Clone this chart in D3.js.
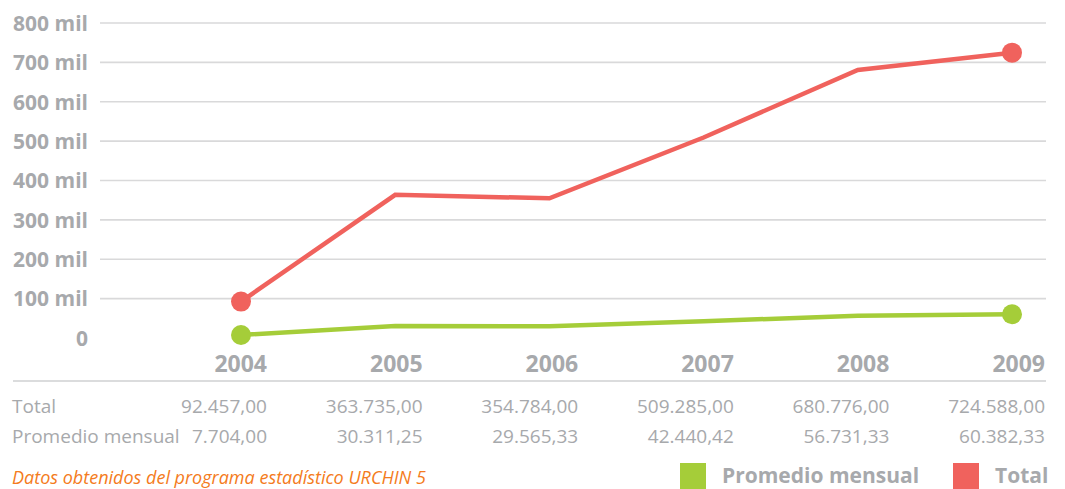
<!DOCTYPE html>
<html>
<head>
<meta charset="utf-8">
<script src="https://cdn.jsdelivr.net/npm/d3@7"></script>
<style>
  html, body { margin: 0; padding: 0; background: #fff; }
  svg { display: block; font-family: "Open Sans", "Noto Sans", sans-serif; }
</style>
</head>
<body>
<svg id="chart" width="1065" height="489"></svg>
<script>
// Visitas por año
const years = ["2004", "2005", "2006", "2007", "2008", "2009"];
const totalValues = [92457.00, 363735.00, 354784.00, 509285.00, 680776.00, 724588.00];
const monthlyValues = [7704.00, 30311.25, 29565.33, 42440.42, 56731.33, 60382.33];
const yTicks = [0, 100000, 200000, 300000, 400000, 500000, 600000, 700000, 800000];
const seriesNames = ["Promedio mensual", "Total"];
const rowLabels = ["Total", "Promedio mensual"];
const sourceNote = "Datos obtenidos del programa estadístico URCHIN 5";

const COLORS = { total: "#f0625d", monthly: "#a5cd39", text: "#a7a9ac", grid: "#d9d9da", note: "#f47b20" };

const svg = d3.select("#chart");

const y = d3.scaleLinear().domain([0, 800000]).range([338, 23]);
const x = d3.scalePoint().domain(years).range([241, 1012]);
// right edges of the year labels and table columns
const col = d3.scalePoint().domain(years).range([267, 1045]);

const es = d3.formatLocale({ decimal: ",", thousands: ".", grouping: [3], currency: ["", ""] });
const fmt = es.format(",.2f");
const tickFmt = v => v === 0 ? "0" : (v / 1000) + " mil";

// horizontal gridlines (none at zero)
svg.append("g")
  .selectAll("line")
  .data(yTicks.filter(d => d > 0))
  .join("line")
  .attr("x1", 100).attr("x2", 1046)
  .attr("y1", d => y(d)).attr("y2", d => y(d))
  .attr("stroke", COLORS.grid).attr("stroke-width", 1.6);

// y tick labels
const yAxis = d3.axisLeft(y).tickValues(yTicks).tickFormat(tickFmt).tickSize(0).tickPadding(0);
const gy = svg.append("g").attr("transform", "translate(88,0)").call(yAxis);
gy.select(".domain").remove();
gy.selectAll("text")
  .attr("fill", COLORS.text)
  .attr("font-family", "'Open Sans', sans-serif")
  .attr("font-size", 21)
  .attr("font-weight", 700)
  .attr("dy", "0.35em");

// year labels
svg.append("g")
  .selectAll("text")
  .data(years)
  .join("text")
  .attr("x", d => col(d)).attr("y", 372)
  .attr("text-anchor", "end")
  .attr("fill", COLORS.text)
  .attr("font-size", 23)
  .attr("font-weight", 700)
  .text(d => d);

// separator above the data table
svg.append("line")
  .attr("x1", 13).attr("x2", 1046).attr("y1", 381).attr("y2", 381)
  .attr("stroke", "#cfd0d2").attr("stroke-width", 1.6);

// lines
const line = d3.line().x((d, i) => x(years[i])).y(d => y(d));
const series = [
  { key: "monthly", values: monthlyValues, color: COLORS.monthly },
  { key: "total", values: totalValues, color: COLORS.total }
];
series.forEach(s => {
  svg.append("path")
    .datum(s.values)
    .attr("d", line)
    .attr("fill", "none")
    .attr("stroke", s.color)
    .attr("stroke-width", 4.5)
    .attr("stroke-linejoin", "miter");
  const ends = [0, s.values.length - 1];
  svg.append("g")
    .selectAll("circle")
    .data(ends)
    .join("circle")
    .attr("cx", i => x(years[i]))
    .attr("cy", i => y(s.values[i]))
    .attr("r", 10)
    .attr("fill", s.color);
});

// data table
const rows = [
  { label: rowLabels[0], values: totalValues, y: 413 },
  { label: rowLabels[1], values: monthlyValues, y: 443 }
];
rows.forEach(r => {
  const g = svg.append("g").attr("fill", COLORS.text).attr("font-size", 19);
  g.append("text").attr("x", 12).attr("y", r.y).text(r.label);
  g.selectAll("text.v")
    .data(r.values)
    .join("text")
    .attr("class", "v")
    .attr("x", (d, i) => col(years[i]))
    .attr("y", r.y)
    .attr("text-anchor", "end")
    .text(d => fmt(d));
});

// source note
svg.append("text")
  .attr("x", 12).attr("y", 484)
  .attr("fill", COLORS.note)
  .attr("font-size", 18)
  .attr("font-style", "italic")
  .text(sourceNote);

// legend
const legend = [
  { name: seriesNames[0], color: COLORS.monthly, x: 680 },
  { name: seriesNames[1], color: COLORS.total, x: 953 }
];
const lg = svg.append("g");
legend.forEach(l => {
  lg.append("rect").attr("x", l.x).attr("y", 463).attr("width", 26).attr("height", 26).attr("fill", l.color);
  lg.append("text")
    .attr("x", l.x + 42).attr("y", 483)
    .attr("fill", COLORS.text)
    .attr("font-size", 21)
    .attr("font-weight", 700)
    .text(l.name);
});
</script>
</body>
</html>
